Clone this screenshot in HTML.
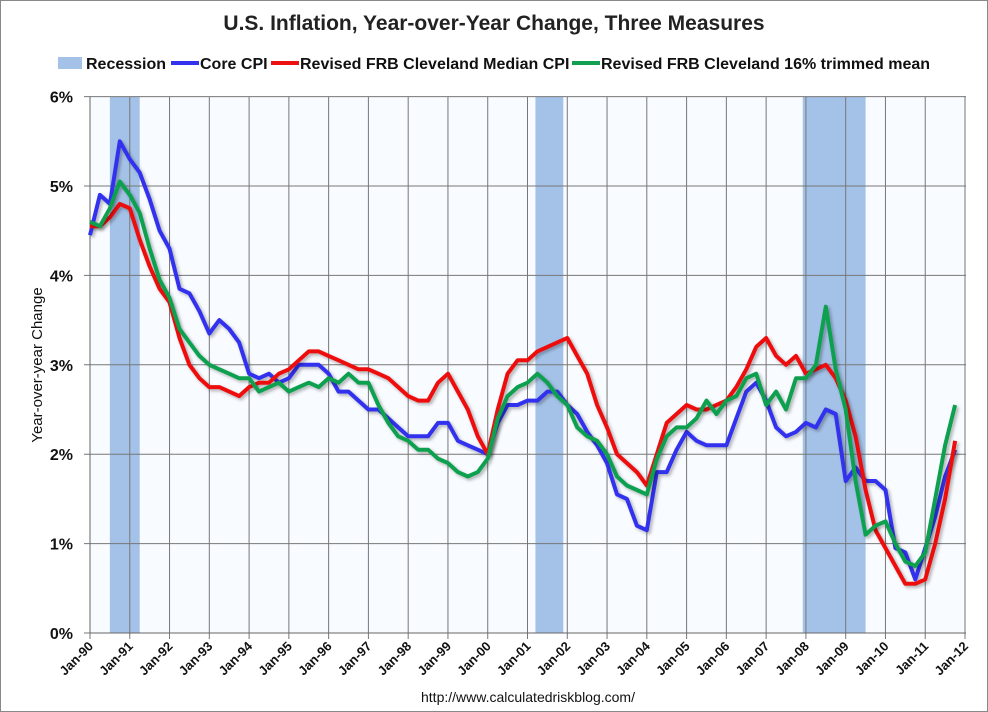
<!DOCTYPE html>
<html><head><meta charset="utf-8"><style>
body{margin:0;background:#fff;}
svg{display:block;font-family:"Liberation Sans",sans-serif;}
</style></head><body>
<svg width="988" height="712" viewBox="0 0 988 712">
<defs><filter id="sh" x="-5%" y="-5%" width="110%" height="110%"><feDropShadow dx="2" dy="2" stdDeviation="1.5" flood-color="#000" flood-opacity="0.3"/></filter></defs>
<rect x="0.5" y="0.5" width="987" height="711" fill="#fff" stroke="#888"/>
<text x="494" y="30" text-anchor="middle" font-size="21" font-weight="bold" fill="#222">U.S. Inflation, Year-over-Year Change, Three Measures</text>
<g font-size="16" font-weight="bold" fill="#111">
<g><rect x="58" y="57" width="24" height="12" fill="#a4c2e8"/><text x="86" y="69">Recession</text></g>
<g><line x1="171" y1="63" x2="199" y2="63" stroke="#3333ee" stroke-width="4"/><text x="200" y="69">Core CPI</text></g>
<g><line x1="271" y1="63" x2="299" y2="63" stroke="#ee1111" stroke-width="4"/><text x="300" y="69">Revised FRB Cleveland Median CPI</text></g>
<g><line x1="572" y1="63" x2="600" y2="63" stroke="#11a050" stroke-width="4"/><text x="601" y="69">Revised FRB Cleveland 16% trimmed mean</text></g>
</g>
<rect x="90" y="96.5" width="876" height="536.5" fill="#f8fbff"/>
<g id="rec"></g><g id="grid"></g><g id="axes"></g><g id="series"></g>
<text transform="translate(42,365) rotate(-90)" text-anchor="middle" font-size="15" fill="#111">Year-over-year Change</text>
<text x="528" y="702" text-anchor="middle" font-size="14" fill="#111">http://www.calculatedriskblog.com/</text>
</svg>
<script>
const yTicks=[0,1,2,3,4,5,6];
const xYears=[1990,1991,1992,1993,1994,1995,1996,1997,1998,1999,2000,2001,2002,2003,2004,2005,2006,2007,2008,2009,2010,2011,2012];
const recessions=[[1990.5,1991.25],[2001.2,2001.9],[2007.92,2009.5]];
const startYear=1990;
const coreCPI=[4.45,4.9,4.8,5.5,5.3,5.15,4.85,4.5,4.3,3.85,3.8,3.6,3.35,3.5,3.4,3.25,2.9,2.85,2.9,2.8,2.85,3.0,3.0,3.0,2.9,2.7,2.7,2.6,2.5,2.5,2.4,2.3,2.2,2.2,2.2,2.35,2.35,2.15,2.1,2.05,2.0,2.35,2.55,2.55,2.6,2.6,2.7,2.7,2.55,2.45,2.25,2.1,1.9,1.55,1.5,1.2,1.15,1.8,1.8,2.05,2.25,2.15,2.1,2.1,2.1,2.4,2.7,2.8,2.6,2.3,2.2,2.25,2.35,2.3,2.5,2.45,1.7,1.85,1.7,1.7,1.6,0.95,0.9,0.6,0.95,1.3,1.75,2.05];
const medianCPI=[4.55,4.55,4.65,4.8,4.75,4.4,4.1,3.85,3.7,3.3,3.0,2.85,2.75,2.75,2.7,2.65,2.75,2.8,2.8,2.9,2.95,3.05,3.15,3.15,3.1,3.05,3.0,2.95,2.95,2.9,2.85,2.75,2.65,2.6,2.6,2.8,2.9,2.7,2.5,2.2,2.0,2.5,2.9,3.05,3.05,3.15,3.2,3.25,3.3,3.1,2.9,2.55,2.3,2.0,1.9,1.8,1.65,2.0,2.35,2.45,2.55,2.5,2.5,2.55,2.6,2.75,2.95,3.2,3.3,3.1,3.0,3.1,2.9,2.95,3.0,2.85,2.6,2.2,1.6,1.15,0.95,0.75,0.55,0.55,0.6,1.0,1.5,2.15];
const trimmedMean=[4.6,4.55,4.75,5.05,4.9,4.7,4.3,3.95,3.75,3.4,3.25,3.1,3.0,2.95,2.9,2.85,2.85,2.7,2.75,2.8,2.7,2.75,2.8,2.75,2.85,2.8,2.9,2.8,2.8,2.55,2.35,2.2,2.15,2.05,2.05,1.95,1.9,1.8,1.75,1.8,1.95,2.4,2.65,2.75,2.8,2.9,2.8,2.65,2.55,2.3,2.2,2.15,2.0,1.75,1.65,1.6,1.55,1.95,2.2,2.3,2.3,2.4,2.6,2.45,2.6,2.65,2.85,2.9,2.55,2.7,2.5,2.85,2.85,3.0,3.65,2.95,2.5,1.7,1.1,1.2,1.25,1.0,0.8,0.75,0.9,1.5,2.1,2.55];
const NS='http://www.w3.org/2000/svg';
const X=y=>90+(y-1990)*(875/22);
const Y=v=>633-v*89.4;
function mk(t,a,p){const e=document.createElementNS(NS,t);for(const k in a)e.setAttribute(k,a[k]);p.appendChild(e);return e;}
const rec=document.getElementById('rec');
recessions.forEach(r=>{
const e=mk('rect',{x:X(r[0]),y:Y(6),width:X(r[1])-X(r[0]),height:Y(0)-Y(6),fill:'#a4c2e8'},rec);


});
const grid=document.getElementById('grid'),axes=document.getElementById('axes');
yTicks.forEach(v=>{
const l=mk('line',{x1:84,x2:966,y1:Y(v),y2:Y(v),stroke:'#777','stroke-width':1},grid);


const t=mk('text',{x:73,y:Y(v)+6,'text-anchor':'end','font-size':16,'font-weight':'bold',fill:'#111'},axes);
t.textContent=v+'%';


});
xYears.forEach(yr=>{
const l=mk('line',{x1:X(yr),x2:X(yr),y1:Y(6),y2:Y(0)+6,stroke:'#777','stroke-width':1},grid);


const tx=X(yr)+4,ty=Y(0)+14;
const t=mk('text',{x:tx,y:ty,'text-anchor':'end','font-size':13,'font-weight':'bold',fill:'#111',transform:`rotate(-45 ${tx} ${ty})`},axes);
t.textContent='Jan-'+String(yr%100).padStart(2,'0');


});
mk('line',{x1:90,x2:90,y1:Y(6),y2:Y(0),stroke:'#666'},axes);
mk('line',{x1:90,x2:966,y1:Y(0),y2:Y(0),stroke:'#666'},axes);
const sg=document.getElementById('series');
[[coreCPI,'#3333ee','core-cpi-line'],[medianCPI,'#ee1111','median-cpi-line'],[trimmedMean,'#11a050','trimmed-mean-line']].forEach(([d,c,n])=>{
const pts=d.map((v,i)=>X(startYear+i*0.25).toFixed(1)+','+Y(v).toFixed(1)).join(' ');
const p=mk('polyline',{points:pts,fill:'none',stroke:c,'stroke-width':4,'stroke-linejoin':'round',filter:'url(#sh)'},sg);


});
</script>
</body></html>
